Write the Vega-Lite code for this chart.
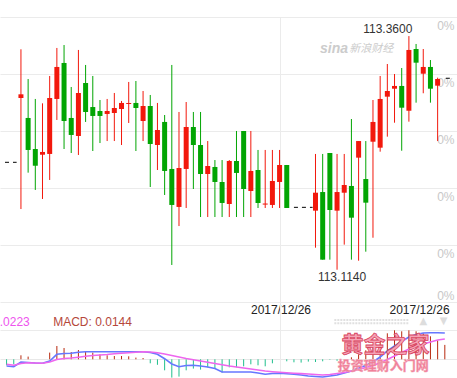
{
  "$schema": "https://vega.github.io/schema/vega-lite/v6.json",
  "width": 457,
  "height": 378,
  "padding": 0,
  "autosize": {"type": "none"},
  "background": "white",
  "config": {"view": {"stroke": null}, "font": "Liberation Sans"},
  "datasets": {
    "candles": [
      {"k": 0, "o": 113.2948, "h": 113.3461, "l": 113.1779, "c": 113.2987},
      {"k": 1, "o": 113.2738, "h": 113.3148, "l": 113.2162, "c": 113.2401},
      {"k": 2, "o": 113.2411, "h": 113.2938, "l": 113.198, "c": 113.2235},
      {"k": 3, "o": 113.2351, "h": 113.2892, "l": 113.1885, "c": 113.238},
      {"k": 4, "o": 113.2359, "h": 113.318, "l": 113.2085, "c": 113.2948},
      {"k": 5, "o": 113.2938, "h": 113.3475, "l": 113.2717, "c": 113.3275},
      {"k": 6, "o": 113.3317, "h": 113.3506, "l": 113.2411, "c": 113.2706},
      {"k": 7, "o": 113.2738, "h": 113.3064, "l": 113.2369, "c": 113.2559},
      {"k": 8, "o": 113.2548, "h": 113.3454, "l": 113.2348, "c": 113.3001},
      {"k": 9, "o": 113.3106, "h": 113.3296, "l": 113.2696, "c": 113.2801},
      {"k": 10, "o": 113.2853, "h": 113.318, "l": 113.239, "c": 113.2759},
      {"k": 11, "o": 113.2811, "h": 113.2927, "l": 113.2474, "c": 113.2759},
      {"k": 12, "o": 113.278, "h": 113.2938, "l": 113.2495, "c": 113.2811},
      {"k": 13, "o": 113.279, "h": 113.3001, "l": 113.2495, "c": 113.2843},
      {"k": 14, "o": 113.2832, "h": 113.2917, "l": 113.2453, "c": 113.2896},
      {"k": 15, "o": 113.2885, "h": 113.3117, "l": 113.2685, "c": 113.2896},
      {"k": 16, "o": 113.2896, "h": 113.3127, "l": 113.239, "c": 113.2843},
      {"k": 17, "o": 113.2706, "h": 113.3022, "l": 113.2495, "c": 113.2864},
      {"k": 18, "o": 113.2864, "h": 113.298, "l": 113.2011, "c": 113.2464},
      {"k": 19, "o": 113.2453, "h": 113.2896, "l": 113.219, "c": 113.2611},
      {"k": 20, "o": 113.2696, "h": 113.2769, "l": 113.1927, "c": 113.218},
      {"k": 21, "o": 113.2201, "h": 113.3296, "l": 113.119, "c": 113.1822},
      {"k": 22, "o": 113.1801, "h": 113.2801, "l": 113.16, "c": 113.2211},
      {"k": 23, "o": 113.2201, "h": 113.2906, "l": 113.179, "c": 113.2643},
      {"k": 24, "o": 113.2643, "h": 113.2801, "l": 113.199, "c": 113.2453},
      {"k": 25, "o": 113.2453, "h": 113.2801, "l": 113.1695, "c": 113.2148},
      {"k": 26, "o": 113.2148, "h": 113.2495, "l": 113.1695, "c": 113.2232},
      {"k": 27, "o": 113.2222, "h": 113.2295, "l": 113.1695, "c": 113.2064},
      {"k": 28, "o": 113.2064, "h": 113.2295, "l": 113.1695, "c": 113.1843},
      {"k": 29, "o": 113.1832, "h": 113.2295, "l": 113.1695, "c": 113.2285},
      {"k": 30, "o": 113.2285, "h": 113.2601, "l": 113.1695, "c": 113.2159},
      {"k": 31, "o": 113.2601, "h": 113.2601, "l": 113.1695, "c": 113.199},
      {"k": 32, "o": 113.1969, "h": 113.2601, "l": 113.1695, "c": 113.218},
      {"k": 33, "o": 113.219, "h": 113.2401, "l": 113.179, "c": 113.1843},
      {"k": 34, "o": 113.1826, "h": 113.2401, "l": 113.179, "c": 113.1837},
      {"k": 35, "o": 113.1822, "h": 113.2401, "l": 113.179, "c": 113.2074},
      {"k": 36, "o": 113.2064, "h": 113.2401, "l": 113.179, "c": 113.2243},
      {"k": 37, "o": 113.2243, "h": 113.2243, "l": 113.179, "c": 113.179},
      {"k": 41, "o": 113.1762, "h": 113.2359, "l": 113.1372, "c": 113.1951},
      {"k": 42, "o": 113.1958, "h": 113.2359, "l": 113.1246, "c": 113.1246},
      {"k": 43, "o": 113.2369, "h": 113.2369, "l": 113.1246, "c": 113.1769},
      {"k": 44, "o": 113.1762, "h": 113.2359, "l": 113.114, "c": 113.1958},
      {"k": 45, "o": 113.1951, "h": 113.2359, "l": 113.1404, "c": 113.2032},
      {"k": 46, "o": 113.2022, "h": 113.2727, "l": 113.1246, "c": 113.1688},
      {"k": 47, "o": 113.232, "h": 113.2495, "l": 113.1235, "c": 113.2495},
      {"k": 48, "o": 113.2095, "h": 113.2495, "l": 113.133, "c": 113.1846},
      {"k": 49, "o": 113.2488, "h": 113.2927, "l": 113.1477, "c": 113.2696},
      {"k": 50, "o": 113.2425, "h": 113.318, "l": 113.2383, "c": 113.2938},
      {"k": 51, "o": 113.2962, "h": 113.3306, "l": 113.2541, "c": 113.3022},
      {"k": 52, "o": 113.3046, "h": 113.3201, "l": 113.2688, "c": 113.3075},
      {"k": 53, "o": 113.3075, "h": 113.3264, "l": 113.2393, "c": 113.2846},
      {"k": 54, "o": 113.2814, "h": 113.36, "l": 113.2699, "c": 113.3454},
      {"k": 55, "o": 113.3464, "h": 113.3517, "l": 113.2899, "c": 113.332},
      {"k": 56, "o": 113.3204, "h": 113.3464, "l": 113.2998, "c": 113.3275},
      {"k": 57, "o": 113.3275, "h": 113.3348, "l": 113.2899, "c": 113.3046},
      {"k": 58, "o": 113.3078, "h": 113.3162, "l": 113.2495, "c": 113.3148}
    ],
    "macd": [
      {"k": -2, "dif": -0.0067, "dea": -0.005, "hist": -0.006},
      {"k": -1, "dif": -0.0074, "dea": -0.006, "hist": -0.005},
      {"k": 0, "dif": -0.0027, "dea": -0.0042, "hist": 0.004},
      {"k": 1, "dif": -0.0032, "dea": -0.0034, "hist": 0.0027},
      {"k": 2, "dif": -0.0037, "dea": -0.0037, "hist": 0},
      {"k": 3, "dif": -0.004, "dea": -0.004, "hist": 0},
      {"k": 4, "dif": -0.0017, "dea": -0.0027, "hist": 0.0067},
      {"k": 5, "dif": 0.005, "dea": -0.0002, "hist": 0.0133},
      {"k": 6, "dif": 0.0058, "dea": 0.0008, "hist": 0.0113},
      {"k": 7, "dif": 0.006, "dea": 0.0013, "hist": 0.0073},
      {"k": 8, "dif": 0.0071, "dea": 0.0021, "hist": 0.0093},
      {"k": 9, "dif": 0.0076, "dea": 0.003, "hist": 0.0083},
      {"k": 10, "dif": 0.0076, "dea": 0.0038, "hist": 0.0067},
      {"k": 11, "dif": 0.0076, "dea": 0.0043, "hist": 0.005},
      {"k": 12, "dif": 0.0076, "dea": 0.0048, "hist": 0.004},
      {"k": 13, "dif": 0.0076, "dea": 0.0055, "hist": 0.0033},
      {"k": 14, "dif": 0.0076, "dea": 0.006, "hist": 0.0033},
      {"k": 15, "dif": 0.0076, "dea": 0.0065, "hist": 0.003},
      {"k": 16, "dif": 0.0076, "dea": 0.0071, "hist": 0.0017},
      {"k": 17, "dif": 0.0076, "dea": 0.0075, "hist": 0.0013},
      {"k": 18, "dif": 0.0068, "dea": 0.0073, "hist": -0.004},
      {"k": 19, "dif": 0.005, "dea": 0.0065, "hist": -0.0055},
      {"k": 20, "dif": 0.0006, "dea": 0.0053, "hist": -0.011},
      {"k": 21, "dif": -0.0047, "dea": 0.0038, "hist": -0.0183},
      {"k": 22, "dif": -0.0074, "dea": 0.0023, "hist": -0.0173},
      {"k": 23, "dif": -0.0062, "dea": 0.0008, "hist": -0.011},
      {"k": 24, "dif": -0.006, "dea": -0.0005, "hist": -0.0093},
      {"k": 25, "dif": -0.0067, "dea": -0.0017, "hist": -0.0103},
      {"k": 26, "dif": -0.0077, "dea": -0.003, "hist": -0.008},
      {"k": 27, "dif": -0.0092, "dea": -0.0042, "hist": -0.0093},
      {"k": 28, "dif": -0.0127, "dea": -0.0055, "hist": -0.0133},
      {"k": 29, "dif": -0.0127, "dea": -0.0067, "hist": -0.008},
      {"k": 30, "dif": -0.0127, "dea": -0.0077, "hist": -0.008},
      {"k": 31, "dif": -0.0127, "dea": -0.0087, "hist": -0.007},
      {"k": 32, "dif": -0.0127, "dea": -0.0097, "hist": -0.005},
      {"k": 33, "dif": -0.0137, "dea": -0.0107, "hist": -0.006},
      {"k": 34, "dif": -0.015, "dea": -0.0117, "hist": -0.007},
      {"k": 35, "dif": -0.0142, "dea": -0.0124, "hist": -0.004},
      {"k": 36, "dif": -0.014, "dea": -0.013, "hist": 0},
      {"k": 37, "dif": -0.0145, "dea": -0.0135, "hist": -0.002},
      {"k": 38, "dif": -0.015, "dea": -0.0139, "hist": -0.003},
      {"k": 39, "dif": -0.0157, "dea": -0.0143, "hist": -0.0033},
      {"k": 40, "dif": -0.0167, "dea": -0.0147, "hist": -0.0023},
      {"k": 41, "dif": -0.0172, "dea": -0.0152, "hist": -0.0027},
      {"k": 42, "dif": -0.0177, "dea": -0.0157, "hist": -0.002},
      {"k": 43, "dif": -0.0167, "dea": -0.0152, "hist": -0.0005},
      {"k": 44, "dif": -0.0157, "dea": -0.0142, "hist": -0.0015},
      {"k": 45, "dif": -0.0137, "dea": -0.0132, "hist": 0},
      {"k": 46, "dif": -0.0117, "dea": -0.0117, "hist": 0.002},
      {"k": 47, "dif": -0.0087, "dea": -0.0102, "hist": 0.005},
      {"k": 48, "dif": -0.0062, "dea": -0.0082, "hist": 0.009},
      {"k": 49, "dif": -0.0027, "dea": -0.0062, "hist": 0.014},
      {"k": 50, "dif": 0.0023, "dea": -0.0034, "hist": 0.02},
      {"k": 51, "dif": 0.0083, "dea": -0.0002, "hist": 0.026},
      {"k": 52, "dif": 0.0133, "dea": 0.0033, "hist": 0.029},
      {"k": 53, "dif": 0.0178, "dea": 0.0068, "hist": 0.028},
      {"k": 54, "dif": 0.0223, "dea": 0.0103, "hist": 0.029},
      {"k": 55, "dif": 0.0248, "dea": 0.0128, "hist": 0.028},
      {"k": 56, "dif": 0.0263, "dea": 0.0153, "hist": 0.026},
      {"k": 57, "dif": 0.0266, "dea": 0.0173, "hist": 0.023},
      {"k": 58, "dif": 0.0266, "dea": 0.0193, "hist": 0.019},
      {"k": 59, "dif": 0.0263, "dea": 0.0203, "hist": 0.0144}
    ]
  },
  "encoding": {
    "x": {
      "field": "k",
      "type": "quantitative",
      "scale": {"domain": [-2.219, 60.0], "nice": false, "zero": false},
      "axis": {
        "values": [36.13, 59.59],
        "labelExpr": "'2017/12/26'",
        "orient": "bottom",
        "offset": -75.3,
        "domain": false,
        "ticks": false,
        "tickSize": 0,
        "grid": false,
        "title": null,
        "labelPadding": 2,
        "labelFontSize": 12,
        "labelColor": "#222222",
        "labelFont": "Liberation Sans",
        "labelFlush": false,
        "labelOverlap": false,
        "labelAlign": {"condition": {"test": "datum.value > 50", "value": "right"}, "value": "center"}
      }
    }
  },
  "layer": [
    {
      "data": {"values": [{"k": 36.13, "p": 113.38, "p2": 113.0}]},
      "mark": {"type": "rule", "color": "#ebebeb", "strokeWidth": 1},
      "encoding": {
        "y": {"field": "p", "type": "quantitative", "scale": {"domain": [113.0, 113.398], "nice": false, "zero": false}, "axis": null},
        "y2": {"field": "p2"}
      }
    },
    {
      "data": {"name": "candles"},
      "mark": {"type": "rule", "strokeWidth": 1},
      "encoding": {
        "y": {
          "field": "l",
          "type": "quantitative",
          "scale": {"domain": [113.0, 113.398], "nice": false, "zero": false},
          "axis": {
            "orient": "right",
            "values": [113.0505, 113.08, 113.14, 113.2, 113.26, 113.32, 113.38],
            "labelExpr": "datum.value < 113.06 ? '' : '0%'",
            "grid": true,
            "gridColor": "#ebebeb",
            "domain": false,
            "ticks": false,
            "tickSize": 0,
            "title": null,
            "labelAlign": "right",
            "labelBaseline": "alphabetic",
            "labelPadding": -3,
            "labelFontSize": 12,
            "labelColor": "#c8c8c8",
            "labelFont": "Liberation Sans",
            "labelFlush": false,
            "labelOverlap": false,
            "labelOffset": {"condition": {"test": "datum.value < 113.09", "value": -3}, "value": 12.7}
          }
        },
        "y2": {"field": "h"},
        "color": {"condition": {"test": "datum.c >= datum.o", "value": "#f2180c"}, "value": "#02a503"}
      }
    },
    {
      "data": {"name": "candles"},
      "mark": {"type": "bar", "size": 5},
      "encoding": {
        "y": {"field": "o", "type": "quantitative", "scale": {"domain": [113.0, 113.398], "nice": false, "zero": false}, "axis": null},
        "y2": {"field": "c"},
        "color": {"condition": {"test": "datum.c >= datum.o", "value": "#f2180c"}, "value": "#02a503"}
      }
    },
    {
      "data": {"values": [
        {"k": -2.219, "k2": -0.6, "p": 113.2271},
        {"k": 38.0, "k2": 40.6, "p": 113.1797},
        {"k": 59.14, "k2": 60.0, "p": 113.3156}
      ]},
      "mark": {"type": "rule", "color": "#000000", "strokeWidth": 1, "strokeDash": [4, 4]},
      "encoding": {
        "x2": {"field": "k2"},
        "y": {"field": "p", "type": "quantitative", "scale": {"domain": [113.0, 113.398], "nice": false, "zero": false}, "axis": null}
      }
    },
    {
      "data": {"name": "macd"},
      "mark": {"type": "rule", "strokeWidth": 1},
      "encoding": {
        "y": {
          "field": "hist",
          "type": "quantitative",
          "scale": {"domain": [-0.0187, 0.3593], "nice": false, "zero": false},
          "axis": {"orient": "left", "values": [0], "grid": true, "gridColor": "#e8e8e8", "labels": false, "ticks": false, "domain": false, "title": null}
        },
        "y2": {"datum": 0},
        "color": {"condition": {"test": "datum.hist > 0", "value": "#b8290e"}, "value": "#1fbf8c"}
      }
    },
    {
      "data": {"name": "macd"},
      "mark": {"type": "line", "color": "#6677ff", "strokeWidth": 1.6},
      "encoding": {
        "y": {"field": "dif", "type": "quantitative", "scale": {"domain": [-0.0187, 0.3593], "nice": false, "zero": false}, "axis": null}
      }
    },
    {
      "data": {"name": "macd"},
      "mark": {"type": "line", "color": "#ee66ee", "strokeWidth": 1.6},
      "encoding": {
        "y": {"field": "dea", "type": "quantitative", "scale": {"domain": [-0.0187, 0.3593], "nice": false, "zero": false}, "axis": null}
      }
    },
    {
      "data": {"values": [{"k": 54, "p": 113.36, "t": "113.3600"}]},
      "mark": {"type": "text", "align": "right", "baseline": "alphabetic", "dx": 3.5, "dy": -3.3, "fontSize": 12, "color": "#333333"},
      "encoding": {
        "y": {"field": "p", "type": "quantitative", "scale": {"domain": [113.0, 113.398], "nice": false, "zero": false}, "axis": null},
        "text": {"field": "t"}
      }
    },
    {
      "data": {"values": [{"k": 44, "p": 113.114, "t": "113.1140"}]},
      "mark": {"type": "text", "align": "center", "baseline": "alphabetic", "dx": 5, "dy": 11, "fontSize": 12, "color": "#333333"},
      "encoding": {
        "y": {"field": "p", "type": "quantitative", "scale": {"domain": [113.0, 113.398], "nice": false, "zero": false}, "axis": null},
        "text": {"field": "t"}
      }
    },
    {
      "data": {"values": [{"k": 4.49, "p": 113.0548, "t": "MACD: 0.0144"}]},
      "mark": {"type": "text", "align": "left", "baseline": "alphabetic", "fontSize": 12, "color": "#b5473a"},
      "encoding": {
        "y": {"field": "p", "type": "quantitative", "scale": {"domain": [113.0, 113.398], "nice": false, "zero": false}, "axis": null},
        "text": {"field": "t"}
      }
    },
    {
      "data": {"values": [{"k": 1.225, "p": 113.0548, "t": "DEA: 0.0223"}]},
      "mark": {"type": "text", "align": "right", "baseline": "alphabetic", "fontSize": 12, "color": "#ee55ee"},
      "encoding": {
        "y": {"field": "p", "type": "quantitative", "scale": {"domain": [113.0, 113.398], "nice": false, "zero": false}, "axis": null},
        "text": {"field": "t"}
      }
    },
    {
      "data": {"values": [{"k": 41.62, "p": 113.3422, "t": "sina"}]},
      "mark": {"type": "text", "align": "left", "baseline": "alphabetic", "fontSize": 14, "fontStyle": "italic", "fontWeight": "bold", "color": "#cccccc"},
      "encoding": {
        "y": {"field": "p", "type": "quantitative", "scale": {"domain": [113.0, 113.398], "nice": false, "zero": false}, "axis": null},
        "text": {"field": "t"}
      }
    },
    {
      "data": {"values": [{"k": 45.7, "p": 113.3433, "t": "新浪财经"}]},
      "mark": {"type": "text", "align": "left", "baseline": "alphabetic", "fontSize": 11, "fontStyle": "italic", "font": "Noto Sans CJK SC", "color": "#cccccc"},
      "encoding": {
        "y": {"field": "p", "type": "quantitative", "scale": {"domain": [113.0, 113.398], "nice": false, "zero": false}, "axis": null},
        "text": {"field": "t"}
      }
    },
    {
      "data": {"values": [
        {"k": 43.62, "k2": 54.05, "p": 113.0611},
        {"k": 43.62, "k2": 54.05, "p": 113.0576}
      ]},
      "mark": {"type": "rule", "color": "#e0e0e0", "strokeWidth": 2, "strokeDash": [2, 1]},
      "encoding": {
        "x2": {"field": "k2"},
        "y": {"field": "p", "type": "quantitative", "scale": {"domain": [113.0, 113.398], "nice": false, "zero": false}, "axis": null}
      }
    },
    {
      "data": {"values": [
        {"k": 56.0, "p": 113.0605, "t": "▲"},
        {"k": 58.84, "p": 113.0605, "t": "▼"}
      ]},
      "mark": {"type": "text", "align": "center", "baseline": "middle", "fontSize": 10, "font": "DejaVu Sans", "color": "#dddddd"},
      "encoding": {
        "y": {"field": "p", "type": "quantitative", "scale": {"domain": [113.0, 113.398], "nice": false, "zero": false}, "axis": null},
        "text": {"field": "t"}
      }
    },
    {
      "data": {"values": [{"k": 50.74, "p": 113.0348, "t": "黄金之家"}]},
      "mark": {"type": "text", "align": "center", "baseline": "middle", "fontSize": 22, "fontWeight": "bold", "font": "Noto Sans CJK SC", "color": "#f5a3b5", "stroke": "#d9445f", "strokeWidth": 0.8},
      "encoding": {
        "y": {"field": "p", "type": "quantitative", "scale": {"domain": [113.0, 113.398], "nice": false, "zero": false}, "axis": null},
        "text": {"field": "t"}
      }
    },
    {
      "data": {"values": [{"k": 50.43, "p": 113.0126, "t": "投资理财入门网"}]},
      "mark": {"type": "text", "align": "center", "baseline": "middle", "fontSize": 13, "fontWeight": "bold", "font": "Noto Sans CJK SC", "color": "#f07a95", "stroke": "#f3a0b2", "strokeWidth": 0.5},
      "encoding": {
        "y": {"field": "p", "type": "quantitative", "scale": {"domain": [113.0, 113.398], "nice": false, "zero": false}, "axis": null},
        "text": {"field": "t"}
      }
    }
  ],
  "resolve": {"scale": {"y": "independent"}, "axis": {"y": "independent"}}
}
